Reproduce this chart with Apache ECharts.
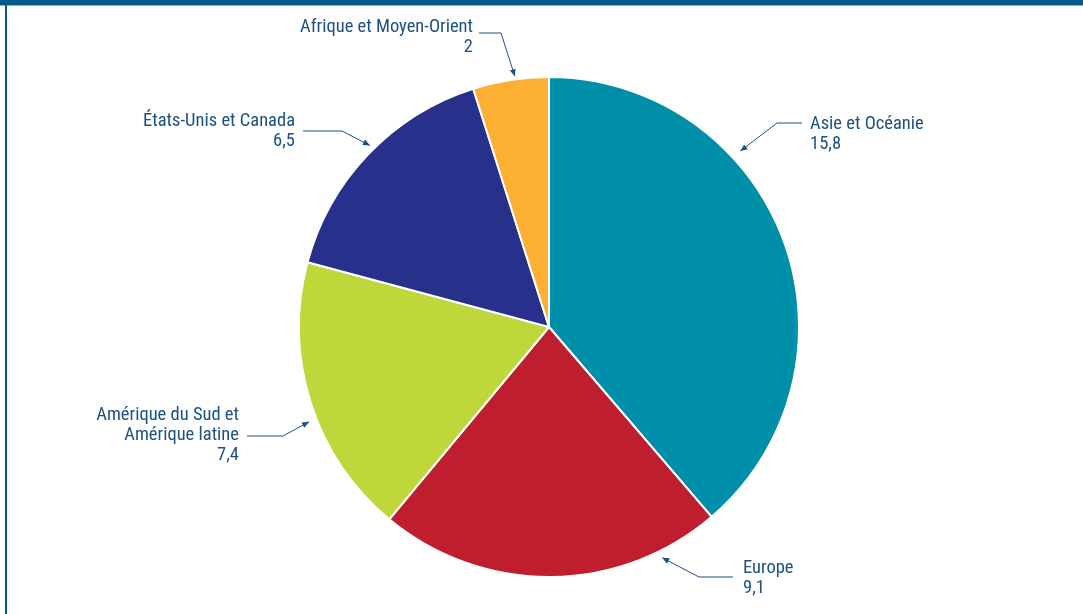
<!DOCTYPE html>
<html><head><meta charset="utf-8">
<script src="https://cdn.jsdelivr.net/npm/echarts@6/dist/echarts.min.js"></script>
<style>html,body{margin:0;padding:0;background:#fff}#c{width:1083px;height:614px}</style>
</head><body><div id="c"></div>
<script>
const categories = ['Asie et Océanie', 'Europe', 'Amérique du Sud et\nAmérique latine', 'États-Unis et Canada', 'Afrique et Moyen-Orient'];
const values = [15.8, 9.1, 7.4, 6.5, 2];
const colors = ['#008fa8', '#be1e2d', '#bfd73b', '#27318b', '#fbb034'];

// annotation layout (label anchors, leader elbows) and arrow position within each slice
const CX = 549, CY = 327, R = 250;
const labelSpec = [
  {frac: 0.34, tipR: 10, elbow: [777, 123], end: [802, 123], x: 810, y: 134, align: 'left'},
  {frac: 0.18, tipR: 7, elbow: [699, 577], end: [733, 577], x: 743, y: 578, align: 'left'},
  {frac: 0.44, tipR: 8, elbow: [283, 436], end: [247, 436], x: 239, y: 435.5, align: 'right'},
  {frac: 0.53, tipR: 5, elbow: [342, 131], end: [303, 131], x: 295, y: 131.5, align: 'right'},
  {frac: 0.56, tipR: 3, elbow: [501, 33], end: [479, 33], x: 473, y: 37.5, align: 'right'}
];
const LINE = '#1d5184';

const total = values.reduce((a, b) => a + b, 0);
let acc = 0;
const tips = values.map((v, i) => {
  const a = (acc + v * labelSpec[i].frac) / total * 2 * Math.PI;
  acc += v;
  const r = R + labelSpec[i].tipR;
  return [CX + r * Math.sin(a), CY - r * Math.cos(a)];
});

const arrows = tips.map((t, i) => {
  const e = labelSpec[i].elbow;
  const dx = t[0] - e[0], dy = t[1] - e[1];
  const L = Math.hypot(dx, dy), ux = dx / L, uy = dy / L;
  const len = 7, w = 3;
  const bx = t[0] - ux * len, by = t[1] - uy * len;
  return {
    type: 'polygon', silent: true,
    shape: {points: [t, [bx - uy * w, by + ux * w], [bx + uy * w, by - ux * w]]},
    style: {fill: LINE}
  };
});

const chart = echarts.init(document.getElementById('c'), null, {renderer: 'canvas'});
chart.setOption({
  backgroundColor: '#ffffff',
  animation: false,
  graphic: [
    {type: 'rect', shape: {x: 0, y: 0, width: 1083, height: 5}, style: {fill: '#005a87'}, silent: true},
    {type: 'rect', shape: {x: 0, y: 5, width: 1083, height: 1}, style: {fill: '#8fb4c8'}, silent: true},
    {type: 'rect', shape: {x: 5, y: 5, width: 2, height: 609}, style: {fill: '#005a87'}, silent: true}
  ].concat(arrows),
  series: [{
    type: 'pie',
    center: [CX, CY],
    radius: R,
    startAngle: 90,
    clockwise: true,
    avoidLabelOverlap: false,
    data: categories.map((n, i) => ({name: n, value: values[i], itemStyle: {color: colors[i]}})),
    itemStyle: {borderColor: '#ffffff', borderWidth: 2},
    label: {
      show: true, position: 'outside',
      formatter: p => p.name + '\n' + String(p.value).replace('.', ','),
      color: LINE, fontSize: 18.5, lineHeight: 20,
      fontFamily: '"Liberation Sans Narrow", "Roboto Condensed", Roboto, sans-serif'
    },
    labelLine: {show: true, lineStyle: {color: LINE, width: 1}, smooth: false},
    labelLayout: function (p) {
      const s = labelSpec[p.dataIndex];
      return {x: s.x, y: s.y, align: s.align, verticalAlign: 'middle',
        labelLinePoints: [tips[p.dataIndex], s.elbow, s.end]};
    },
    emphasis: {disabled: true}
  }]
});
</script></body></html>
